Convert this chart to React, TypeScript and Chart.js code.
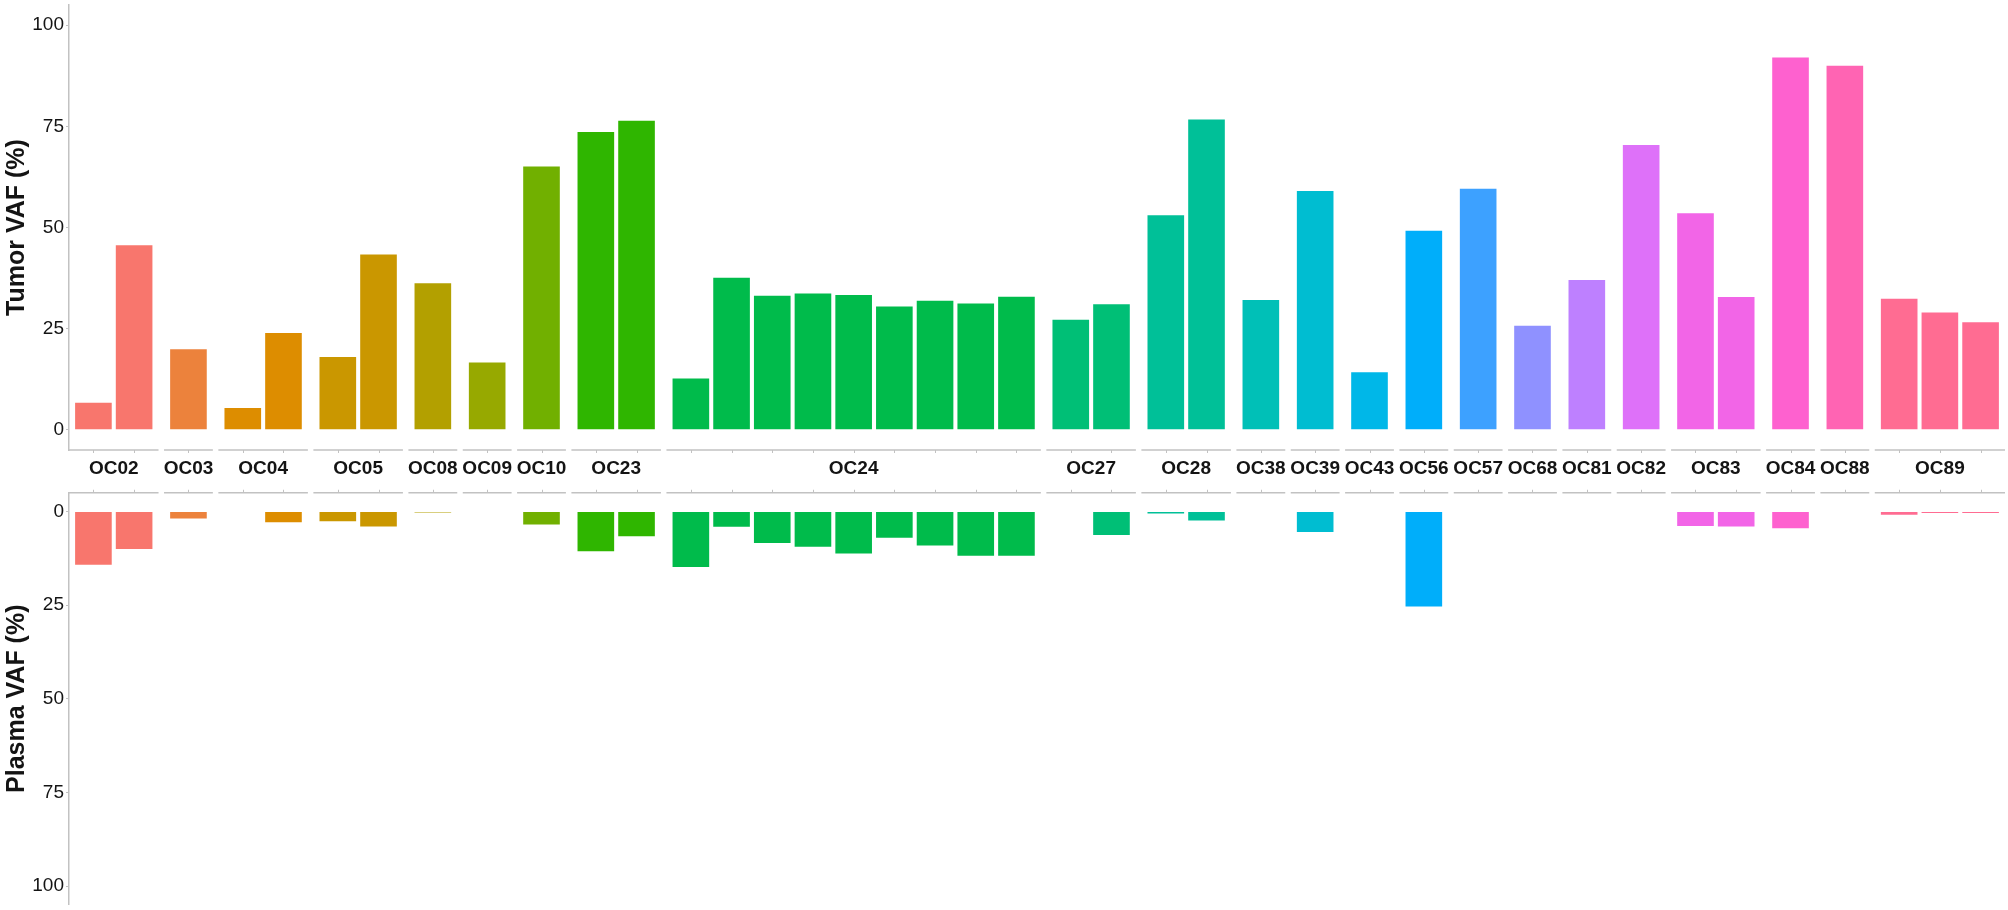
import React, { useEffect, useRef } from "react";
import { Chart, registerables } from "chart.js";

Chart.register(...registerables);

// ---------------- data ----------------
const patients = [
  "OC02", "OC03", "OC04", "OC05", "OC08", "OC09", "OC10", "OC23", "OC24", "OC27", "OC28", "OC38",
  "OC39", "OC43", "OC56", "OC57", "OC68", "OC81", "OC82", "OC83", "OC84", "OC88", "OC89",
];
const mutationsPerPatient = [2, 1, 2, 2, 1, 1, 1, 2, 9, 2, 2, 1, 1, 1, 1, 1, 1, 1, 1, 2, 1, 1, 3];

const tumorVaf = [
  6.7, 45.6, 19.9, 5.4, 23.9, 18.0, 43.3, 36.2, 16.6, 65.1, 73.6, 76.4,
  12.7, 37.6, 33.1, 33.7, 33.3, 30.5, 31.9, 31.2, 32.9,
  27.2, 31.0, 53.0, 76.7, 32.1, 59.0, 14.2, 49.2, 59.6, 25.7, 37.0, 70.4,
  53.5, 32.8, 92.0, 90.0, 32.4, 29.0, 26.6,
];
const plasmaVaf = [
  14.2, 10.0, 1.9, null, 2.9, 2.6, 4.0, 0.3, null, 3.5, 10.6, 6.6,
  14.8, 4.1, 8.4, 9.4, 11.2, 7.0, 9.1, 11.8, 11.8,
  null, 6.3, 0.55, 2.4, null, 5.5, null, 25.4, null, null, null, null,
  3.9, 4.0, 4.45, null, 0.9, 0.4, 0.4,
];
const yTickValues = [0, 25, 50, 75, 100];
const yMin = -5;
const yMax = 105;

// ---------------- styles ----------------
const FONT = "'Liberation Sans', Arial, Helvetica, sans-serif";
const AXIS_COLOR = "#c2c2c2";
const TEXT_COLOR = "#141414";
const FACET_PAD = 0.6; // discrete expansion inside each facet (bar units)
const FACET_GAP = 0.135; // spacing between facets (bar units)

// ggplot-like HCL hue palette
function hcl(h: number, c: number, l: number): string {
  const WX = 95.047, WY = 100.0, WZ = 108.883;
  const Wu = 0.1978398, Wv = 0.4683363;
  void WX; void WZ;
  const hr = (h * Math.PI) / 180;
  const U = c * Math.cos(hr);
  const V = c * Math.sin(hr);
  const Y = WY * (l > 7.999592 ? Math.pow((l + 16) / 116, 3) : l / 903.3);
  const u = U / (13 * l) + Wu;
  const v = V / (13 * l) + Wv;
  const X = (9.0 * Y * u) / (4 * v);
  const Z = -X / 3 - 5 * Y + (3 * Y) / v;
  const g = (x: number) => (x > 0.00304 ? 1.055 * Math.pow(x, 1 / 2.4) - 0.055 : 12.92 * x);
  const r = g((3.240479 * X - 1.53715 * Y - 0.498535 * Z) / WY);
  const gg = g((-0.969256 * X + 1.875992 * Y + 0.041556 * Z) / WY);
  const b = g((0.055648 * X - 0.204043 * Y + 1.057311 * Z) / WY);
  const to = (x: number) => Math.round(Math.min(1, Math.max(0, x)) * 255).toString(16).padStart(2, "0");
  return "#" + to(r) + to(gg) + to(b);
}

const facetColors = patients.map((_, i) => hcl(15 + (i * 360) / patients.length, 100, 65));

// facet layout along a linear x axis
const facetStarts: number[] = [];
const barX: number[] = [];
const barColors: string[] = [];
let cursor = 0;
patients.forEach((_, i) => {
  facetStarts.push(cursor);
  for (let j = 0; j < mutationsPerPatient[i]; j++) {
    barX.push(cursor + FACET_PAD + j);
    barColors.push(facetColors[i]);
  }
  cursor += mutationsPerPatient[i] - 1 + 2 * FACET_PAD + FACET_GAP;
});
const xMax = cursor - FACET_GAP;

const facetAxisPlugin = {
  id: "facetAxis",
  afterDraw(chart: any, _args: any, opts: any) {
    const { ctx, chartArea } = chart;
    const xs = chart.scales.x;
    const y = opts.edge === "bottom" ? chartArea.bottom : chartArea.top;
    const dir = opts.edge === "bottom" ? 1 : -1;
    ctx.save();
    patients.forEach((p, i) => {
      const s = facetStarts[i];
      const w = mutationsPerPatient[i] - 1 + 2 * FACET_PAD;
      const x0 = xs.getPixelForValue(s);
      const x1 = xs.getPixelForValue(s + w);
      ctx.strokeStyle = AXIS_COLOR;
      ctx.lineWidth = 1.5;
      ctx.beginPath();
      ctx.moveTo(x0, y);
      ctx.lineTo(x1, y);
      ctx.stroke();
      ctx.lineWidth = 1;
      ctx.beginPath();
      for (let j = 0; j < mutationsPerPatient[i]; j++) {
        const px = Math.round(xs.getPixelForValue(s + FACET_PAD + j)) + 0.5;
        ctx.moveTo(px, y);
        ctx.lineTo(px, y + dir * 3);
      }
      ctx.stroke();
      if (opts.labels) {
        ctx.fillStyle = TEXT_COLOR;
        ctx.font = `bold 19px ${FONT}`;
        ctx.textAlign = "center";
        ctx.textBaseline = "middle";
        ctx.fillText(p, (x0 + x1) / 2, opts.labelY);
      }
    });
    ctx.restore();
  },
};

function makeConfig(values: (number | null)[], title: string, reverse: boolean, padding: any, facetOpts: any): any {
  return {
    type: "bar",
    data: {
      datasets: [
        {
          data: barX.map((x, k) => ({ x, y: values[k] })),
          backgroundColor: barColors,
          borderWidth: 0,
          categoryPercentage: 1,
          barPercentage: 0.9,
        },
      ],
    },
    plugins: [facetAxisPlugin],
    options: {
      animation: false,
      responsive: true,
      maintainAspectRatio: false,
      layout: { padding },
      plugins: {
        legend: { display: false },
        tooltip: { enabled: false },
        facetAxis: facetOpts,
      },
      scales: {
        x: {
          type: "linear",
          min: 0,
          max: xMax,
          offset: false,
          display: false,
          grid: { offset: false },
          afterBuildTicks: (s: any) => {
            s.ticks = [{ value: 0 }, { value: xMax }];
          },
        },
        y: {
          type: "linear",
          min: yMin,
          max: yMax,
          reverse,
          afterBuildTicks: (s: any) => {
            s.ticks = yTickValues.map((v) => ({ value: v }));
          },
          afterFit: (s: any) => {
            s.width = 69;
            s.paddingTop = 0;
            s.paddingBottom = 0;
          },
          border: { display: true, color: AXIS_COLOR, width: 1.5 },
          grid: { display: true, drawOnChartArea: false, drawTicks: true, tickLength: 3, color: AXIS_COLOR },
          ticks: {
            padding: 2,
            color: TEXT_COLOR,
            font: { family: FONT, size: 19 },
            callback: (v: any) => String(v),
          },
          title: {
            display: true,
            text: title,
            color: TEXT_COLOR,
            font: { family: FONT, size: 25, weight: "bold", lineHeight: 1.2 },
            padding: { top: 2, bottom: 0 },
          },
        },
      },
    },
  };
}

function ChartCanvas({ config, style }: { config: any; style: React.CSSProperties }) {
  const ref = useRef<HTMLCanvasElement | null>(null);
  useEffect(() => {
    if (!ref.current) return;
    const chart = new Chart(ref.current, config);
    return () => chart.destroy();
  }, [config]);
  return (
    <div style={{ position: "absolute", ...style }}>
      <canvas ref={ref} />
    </div>
  );
}

const topConfig = makeConfig(
  tumorVaf,
  "Tumor VAF (%)",
  false,
  { top: 5, bottom: 8, left: 0, right: 3 },
  { edge: "bottom", labels: false }
);
const bottomConfig = makeConfig(
  plasmaVaf,
  "Plasma VAF (%)",
  true,
  { top: 34.75, bottom: 5.25, left: 0, right: 3 },
  { edge: "top", labels: true, labelY: 11.2 }
);

export default function App() {
  return (
    <div style={{ position: "absolute", left: 0, top: 0, width: 2008, height: 910, background: "#fff" }}>
      <ChartCanvas config={topConfig} style={{ left: 0, top: 0, width: 2008, height: 458 }} />
      <ChartCanvas config={bottomConfig} style={{ left: 0, top: 458, width: 2008, height: 452 }} />
    </div>
  );
}
